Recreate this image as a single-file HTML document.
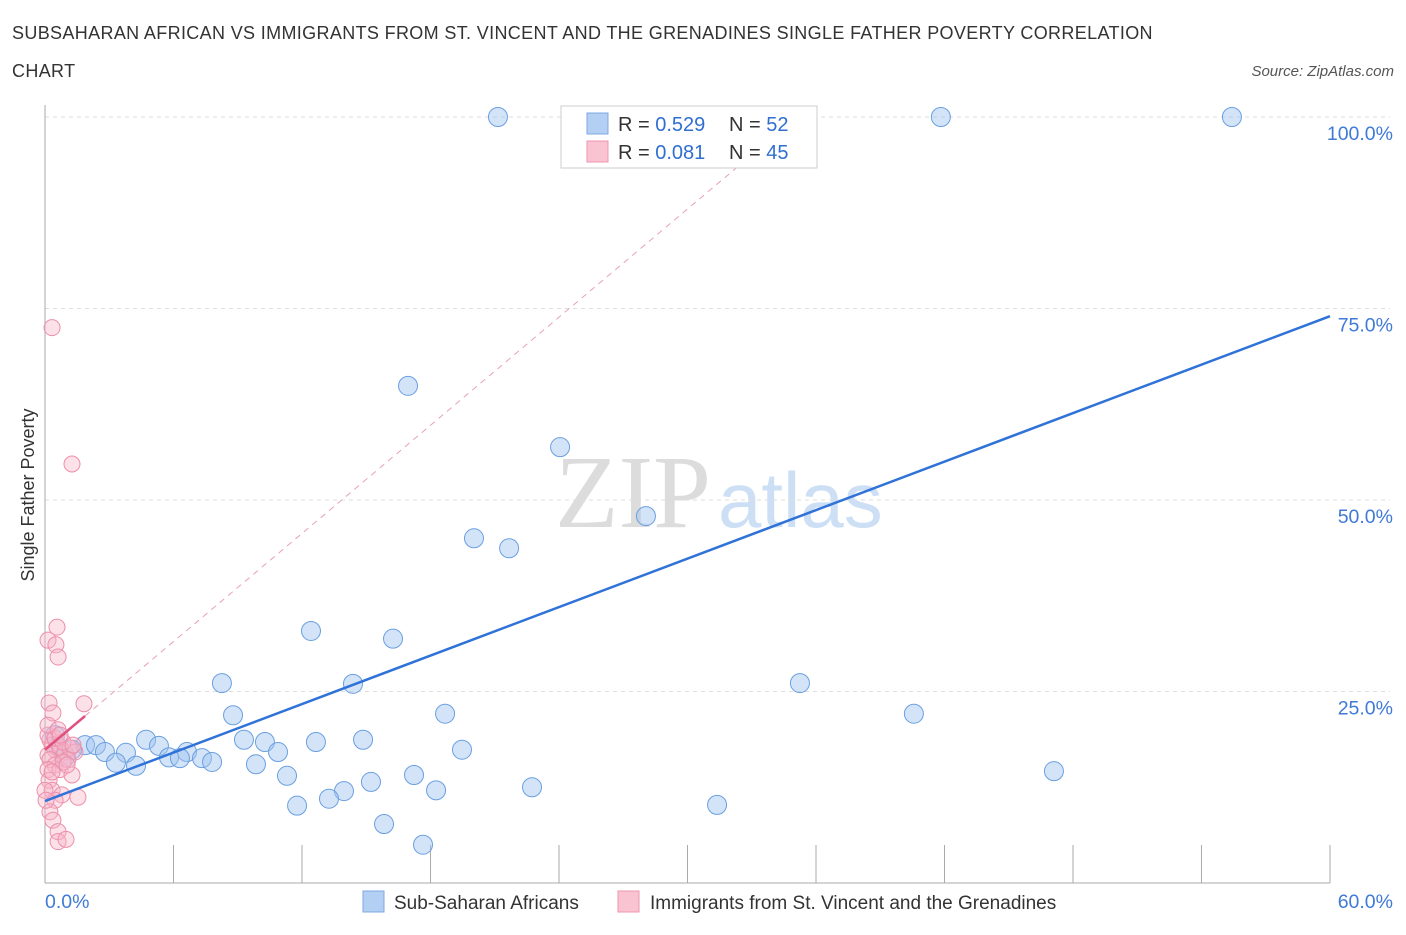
<!DOCTYPE html>
<html><head><meta charset="utf-8"><style>
body{margin:0;background:#fff;font-family:"Liberation Sans",sans-serif;}
</style></head><body>
<svg id="chart" width="1406" height="930" font-family="Liberation Sans, sans-serif">
<text x="12" y="39" font-size="18" letter-spacing="0.35" fill="#333">SUBSAHARAN AFRICAN VS IMMIGRANTS FROM ST. VINCENT AND THE GRENADINES SINGLE FATHER POVERTY CORRELATION</text>
<text x="12" y="77" font-size="18" letter-spacing="0.35" fill="#333">CHART</text>
<text x="1394" y="76" font-size="15" font-style="italic" fill="#555" text-anchor="end">Source: ZipAtlas.com</text>
<text x="34" y="495" font-size="18" fill="#333" text-anchor="middle" transform="rotate(-90 34 495)">Single Father Poverty</text>
<text x="555" y="527" font-size="104" fill="#dcdcdc" style="font-family:'Liberation Serif',serif">ZIP</text>
<text x="718" y="527" font-size="78" fill="#cddff5">atlas</text>
<g id="grid"></g><g id="marks"></g>
<g>
<rect x="561" y="106" width="256" height="62" fill="#fff" stroke="#ccc"/>
<rect x="587" y="113" width="21" height="21" fill="#b3cff3" stroke="#7ea8e0"/>
<rect x="587" y="141" width="21" height="21" fill="#f9c3d2" stroke="#ee95b0"/>
<text x="618" y="131" font-size="20" fill="#333">R = <tspan fill="#2f6fd0">0.529</tspan><tspan x="729">N = </tspan><tspan fill="#2f6fd0">52</tspan></text>
<text x="618" y="159" font-size="20" fill="#333">R = <tspan fill="#2f6fd0"> 0.081</tspan><tspan x="729">N = </tspan><tspan fill="#2f6fd0">45</tspan></text>
</g>
<g>
<rect x="363" y="891" width="21" height="21" fill="#b3cff3" stroke="#7ea8e0"/>
<text x="394" y="909" font-size="19" fill="#333">Sub-Saharan Africans</text>
<rect x="618" y="891" width="21" height="21" fill="#f9c3d2" stroke="#ee95b0"/>
<text x="650" y="909" font-size="19" fill="#333">Immigrants from St. Vincent and the Grenadines</text>
</g>
</svg>
<script>
const yTicks=[25,50,75,100];
const yTickLabels=["25.0%","50.0%","75.0%","100.0%"];
const xEndLabels=["0.0%","60.0%"];
const blueX=[21.15,41.83,55.42,16.95,24.05,28.06,20.03,21.67,12.42,16.25,8.26,14.38,35.25,8.78,18.68,40.57,4.72,5.32,9.29,10.27,12.65,14.85,6.63,10.88,19.47,0.47,1.87,2.38,2.80,3.78,3.31,4.25,5.79,6.30,7.33,7.80,9.85,11.30,17.23,47.11,15.22,13.96,18.26,22.74,11.77,13.26,31.38,15.83,17.65,0.93,1.26,0.61];
const blueY=[100,100,100,64.9,56.9,47.9,45.0,43.7,32.9,31.9,26.1,26.0,26.1,21.9,22.1,22.1,18.7,17.9,18.7,18.4,18.4,18.7,17.1,17.1,17.4,19.3,18.0,18.0,17.1,17.0,15.7,15.3,16.4,16.3,16.3,15.8,15.5,14.0,14.1,14.6,13.2,12.0,12.1,12.5,10.1,11.0,10.2,7.7,5.0,16.4,17.4,17.8];
const pinkX=[0.33,1.26,0.56,0.14,0.51,0.61,1.82,0.19,0.37,0.23,0.33,0.47,0.14,0.7,0.93,1.17,1.4,0.23,0.47,0.14,0.7,1.26,0.19,0.33,0.79,1.54,0.47,0.23,0.37,0.61,0.61,0.98,0.14,0.47,0.84,1.07,0.14,0.61,0.84,0.0,1.03,0.33,0.05,1.31,0.7];
const pinkY=[72.5,54.7,33.4,31.7,31.1,29.5,23.4,23.5,22.2,18.7,18.0,17.4,16.7,17.6,17.1,17.6,17.1,16.1,15.4,14.8,14.8,14.1,13.4,12.1,11.5,11.2,10.8,9.3,8.2,6.7,5.4,5.7,19.3,18.9,18.4,16.1,20.6,20.0,15.8,12.1,15.4,14.5,10.8,18.0,19.3];
const blueTrend=[10.7,74.0];
const pinkTrend=[17.4,21.8,100];
const pinkTrendX=[0,1.87];
const X0=45,X1=1330,Y0=883,YPX=7.66;
const sx=v=>X0+(v/60)*(X1-X0);
const sy=v=>Y0-v*YPX;
const NS="http://www.w3.org/2000/svg";
function mk(tag,attrs,parent){const e=document.createElementNS(NS,tag);for(const k in attrs)e.setAttribute(k,attrs[k]);parent.appendChild(e);return e;}
const grid=document.getElementById('grid'),marks=document.getElementById('marks');
yTicks.forEach((t,i)=>{
 const l=mk('line',{x1:X0,x2:1390,y1:sy(t),y2:sy(t),stroke:'#ddd','stroke-dasharray':'4,4'},grid);
 
 
 const tx=mk('text',{x:1393,y:sy(t)+23,'font-size':19.5,fill:'#3f7ad6','text-anchor':'end'},grid);
 tx.textContent=yTickLabels[i];
 
 
});
const ax=mk('line',{x1:X0,x2:X0,y1:105,y2:Y0,stroke:'#aaa'},grid);


const bx=mk('line',{x1:X0,x2:X1,y1:Y0,y2:Y0,stroke:'#aaa'},grid);


for(let i=1;i<=10;i++){
 const x=X0+i*(X1-X0)/10;
 const t=mk('line',{x1:x,x2:x,y1:845,y2:Y0,stroke:'#aaa'},grid);
 
 
}
[[45,'start'],[1393,'end']].forEach((p,i)=>{
 const t=mk('text',{x:p[0],y:908,'font-size':19.5,fill:'#3f7ad6','text-anchor':p[1]},grid);
 t.textContent=xEndLabels[i];
 
 
});
const pd=mk('line',{x1:sx(pinkTrendX[1]),y1:sy(pinkTrend[1]),x2:sx(pinkTrendX[1]+(pinkTrend[2]-pinkTrend[1])*(pinkTrendX[1]-pinkTrendX[0])/(pinkTrend[1]-pinkTrend[0])),y2:sy(pinkTrend[2]),stroke:'#e8a0b6','stroke-dasharray':'6,5','stroke-width':1},marks);


blueX.forEach((v,i)=>{
 const c=mk('circle',{cx:sx(v),cy:sy(blueY[i]),r:9.5,fill:'rgba(160,195,240,0.45)',stroke:'#6a9fe0','stroke-width':1},marks);
 
 
});
pinkX.forEach((v,i)=>{
 const c=mk('circle',{cx:sx(v),cy:sy(pinkY[i]),r:8,fill:'rgba(248,180,200,0.4)',stroke:'#ec8fab','stroke-width':1},marks);
 
 
});
const bt=mk('line',{x1:sx(0),y1:sy(blueTrend[0]),x2:sx(60),y2:sy(blueTrend[1]),stroke:'#2f72d8','stroke-width':2.5},marks);


const pt=mk('line',{x1:sx(pinkTrendX[0]),y1:sy(pinkTrend[0]),x2:sx(pinkTrendX[1]),y2:sy(pinkTrend[1]),stroke:'#e0507e','stroke-width':2.5},marks);


</script>
</body></html>
